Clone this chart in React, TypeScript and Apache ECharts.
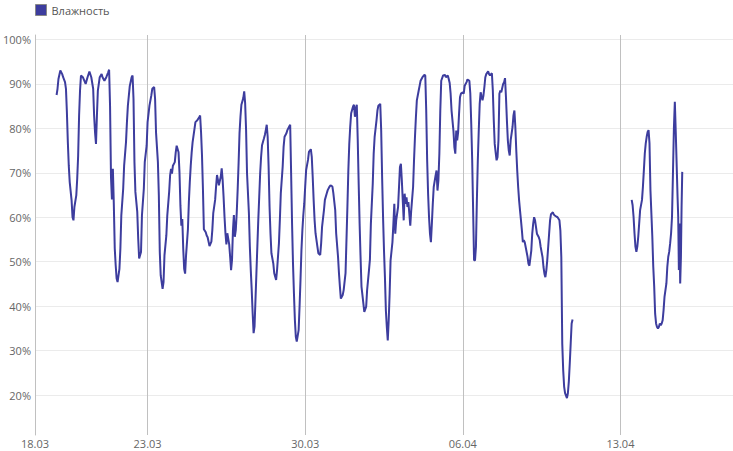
import React, { useEffect, useRef } from "react";
import * as echarts from "echarts";

const SERIES_NAME = "Влажность";
const START_DATE_UTC = Date.UTC(2020, 2, 18);
const X_MIN_HOURS = 0;
const X_MAX_HOURS = 744;
const X_TICK_HOURS = [0, 120, 288, 456, 624];
const Y_MIN = 11;
const Y_MAX = 101;
const Y_TICKS = [20, 30, 40, 50, 60, 70, 80, 90, 100];

// hours since 18.03 00:00
const seg1Hours = [
  23, 24, 25, 27, 29, 30, 32, 33, 34, 35, 36, 37, 39, 40, 41, 42, 44, 45, 46, 47,
  48, 49, 51, 54, 56, 58, 60, 62, 63, 64, 65, 66, 67, 69, 71, 72, 74, 76, 78, 79,
  80, 81, 82, 83, 84, 85, 86, 87, 88, 90, 91, 92, 94, 95, 97, 98, 99, 101, 103, 104,
  105, 106, 107, 109, 110, 111, 113, 114, 116, 117, 119, 120, 122, 124, 125, 127, 128, 129, 131, 132,
  133, 134, 136, 137, 138, 140, 141, 143, 144, 145, 146, 147, 149, 150, 151, 153, 154, 155, 156, 157,
  158, 159, 160, 161, 163, 164, 165, 166, 167, 168, 170, 171, 173, 175, 176, 177, 178, 179, 180, 182,
  183, 184, 186, 188, 189, 190, 192, 193, 194, 195, 196, 198, 199, 200, 201, 202, 203, 204, 205, 207,
  208, 209, 210, 211, 212, 213, 214, 215, 216, 217, 218, 219, 220, 222, 223, 224, 225, 226, 228, 229,
  230, 231, 232, 233, 234, 235, 236, 237, 238, 239, 240, 241, 242, 244, 245, 246, 247, 248, 249, 250,
  251, 252, 254, 255, 257, 258, 260, 261, 262, 264, 265, 266, 268, 269, 271, 272, 273, 274, 275, 276,
  277, 278, 279, 281, 282, 283, 284, 285, 286, 287, 288, 289, 291, 292, 294, 295, 296, 297, 298, 299,
  301, 302, 304, 305, 306, 308, 309, 311, 312, 314, 315, 317, 318, 320, 321, 323, 324, 325, 326, 328,
  329, 331, 332, 333, 334, 335, 336, 337, 339, 340, 341, 342, 343, 344, 345, 346, 347, 348, 350, 351,
  353, 354, 356, 357, 358, 360, 361, 362, 364, 365, 366, 368, 369, 370, 371, 372, 373, 374, 375, 376,
  377, 378, 379, 381, 382, 383, 384, 385, 387, 388, 389, 390, 391, 392, 393, 394, 395, 396, 397, 398,
  399, 400, 401, 403, 404, 405, 406, 407, 409, 410, 411, 413, 415, 416, 417, 418, 419, 420, 421, 422,
  423, 424, 425, 427, 428, 429, 430, 431, 432, 433, 435, 437, 438, 440, 441, 442, 443, 444, 446, 447,
  448, 449, 450, 451, 452, 453, 454, 456, 457, 458, 460, 461, 463, 464, 465, 466, 467, 468, 469, 470,
  471, 472, 473, 474, 475, 477, 478, 479, 480, 481, 483, 484, 485, 487, 488, 489, 490, 491, 492, 493,
  494, 495, 496, 497, 499, 500, 501, 502, 503, 504, 505, 506, 507, 509, 510, 511, 512, 513, 514, 515,
  516, 517, 518, 519, 520, 521, 522, 523, 525, 526, 527, 529, 530, 531, 532, 533, 534, 535, 536, 537,
  538, 539, 541, 542, 543, 544, 545, 546, 547, 548, 549, 550, 552, 553, 554, 556, 557, 559, 560, 561,
  562, 563, 564, 565, 567, 568, 569, 570, 571, 572, 573,
];
const seg1Humidity = [
  87.5, 88.9, 91.1, 93.0, 92.2, 91.5, 90.4, 88.9, 83.6, 76.9, 71.6, 67.9, 63.8, 60.0, 59.3, 62.3, 64.9, 68.7, 73.9, 82.9,
  88.5, 91.9, 91.5, 90.0, 91.5, 92.8, 91.5, 88.9, 82.9, 79.1, 76.5, 82.9, 88.5, 91.5, 92.2, 91.5, 90.7, 91.5, 92.6, 93.2,
  85.0, 69.0, 64.0, 70.9, 63.0, 53.0, 49.2, 46.2, 45.4, 48.4, 52.9, 60.4, 66.4, 71.6, 76.9, 81.4, 85.1, 89.5, 91.5, 91.9,
  86.6, 72.4, 65.7, 61.2, 55.2, 50.7, 52.2, 60.4, 66.4, 72.4, 76.1, 81.4, 85.1, 87.4, 88.9, 89.3, 86.6, 79.1, 72.4, 64.9,
  52.2, 46.9, 43.9, 45.4, 51.4, 55.9, 60.4, 65.7, 69.4, 70.9, 69.8, 71.6, 72.4, 74.6, 76.1, 74.6, 70.1, 62.6, 58.1, 59.6,
  52.9, 48.4, 47.3, 51.4, 57.3, 63.4, 67.9, 71.6, 74.6, 76.9, 79.9, 81.4, 81.8, 82.5, 82.9, 79.1, 73.9, 66.4, 57.3, 56.6,
  55.9, 55.5, 53.5, 54.5, 57.1, 60.9, 63.9, 66.9, 69.5, 68.4, 67.2, 69.1, 71.0, 68.4, 64.6, 60.1, 56.4, 53.9, 56.4, 53.9,
  51.1, 48.1, 50.4, 57.1, 60.5, 55.6, 57.1, 60.9, 66.1, 72.1, 78.9, 82.6, 85.3, 86.8, 88.3, 85.6, 79.6, 69.9, 60.9, 53.4,
  48.1, 43.6, 38.4, 33.9, 35.4, 41.4, 47.4, 53.4, 59.4, 64.6, 69.9, 73.6, 76.2, 77.7, 78.5, 79.6, 80.8, 78.1, 71.4, 62.4,
  56.4, 51.9, 49.6, 47.4, 45.9, 48.1, 54.1, 59.4, 65.4, 71.4, 75.9, 78.1, 78.9, 79.6, 80.4, 80.8, 69.9, 58.6, 49.6, 42.9,
  36.9, 33.1, 32.0, 34.6, 39.9, 45.9, 52.6, 57.1, 60.5, 63.1, 66.9, 70.6, 72.9, 74.7, 75.3, 73.6, 69.1, 63.9, 59.4, 56.4,
  53.4, 51.9, 51.5, 54.1, 57.9, 61.6, 63.9, 65.4, 66.1, 66.9, 67.2, 66.9, 65.4, 61.6, 56.4, 51.1, 47.4, 44.4, 41.7, 42.5,
  43.6, 47.4, 54.9, 62.4, 70.6, 76.6, 80.4, 83.4, 84.9, 85.3, 82.6, 84.5, 85.3, 77.4, 67.6, 58.6, 51.1, 44.4, 40.6, 38.7,
  39.9, 43.6, 48.1, 50.5, 58.5, 67.5, 74.3, 78.0, 81.8, 84.0, 85.1, 85.5, 79.5, 69.0, 60.0, 52.5, 46.5, 39.0, 35.3, 32.3,
  36.8, 42.8, 50.3, 54.4, 58.5, 63.0, 56.3, 59.3, 62.3, 66.8, 71.3, 72.0, 68.3, 63.8, 59.3, 65.3, 63.0, 64.5, 62.3, 63.4,
  60.8, 58.1, 61.5, 66.8, 72.8, 78.0, 82.5, 86.3, 88.5, 89.6, 90.7, 91.5, 92.0, 91.9, 84.0, 72.8, 65.3, 60.0, 56.3, 54.4,
  58.5, 63.0, 66.8, 69.4, 70.5, 66.0, 68.3, 74.3, 84.0, 90.7, 91.9, 92.0, 91.5, 91.9, 91.1, 90.2, 87.8, 84.0, 79.5, 75.8,
  74.3, 79.5, 77.3, 79.1, 83.3, 87.0, 87.8, 88.1, 87.8, 89.6, 90.4, 91.0, 90.7, 87.8, 81.0, 72.8, 61.5, 50.3, 50.3, 53.3,
  63.8, 72.8, 79.5, 85.5, 88.1, 86.3, 87.4, 89.3, 91.5, 92.2, 92.8, 92.2, 91.9, 92.4, 88.5, 81.8, 76.5, 74.6, 72.8, 73.5,
  77.3, 87.8, 88.5, 88.1, 90.0, 90.4, 91.3, 87.0, 81.8, 77.3, 75.0, 73.9, 77.3, 80.3, 82.9, 84.0, 80.3, 75.0, 70.5, 66.8,
  63.8, 61.5, 59.3, 57.0, 54.4, 54.8, 54.4, 53.3, 51.1, 49.5, 49.1, 52.5, 56.3, 58.5, 60.0, 59.3, 57.8, 56.3, 55.9, 55.5,
  54.8, 53.3, 51.0, 48.8, 47.3, 46.5, 48.0, 50.3, 53.3, 56.3, 59.3, 60.7, 61.1, 60.6, 60.4, 60.1, 60.0, 59.3, 57.0, 51.0,
  31.6, 25.6, 21.9, 20.4, 19.3, 20.4, 23.0, 27.1, 31.6, 36.1, 37.0,
];

const gapHour = 600;

const seg2Hours = [
  636, 637, 638, 639, 640, 641, 642, 643, 644, 645, 647, 648, 649, 650, 651, 652, 653, 654, 655, 656,
  658, 659, 660, 661, 662, 663, 664, 665, 666, 667, 668, 669, 670, 671, 673, 674, 675, 676, 677, 678,
  679, 680, 681, 682, 683, 684.2, 684.9, 685.6, 686.3, 687, 687.7, 688.5, 689.2, 689.9,
];
const seg2Humidity = [
  63.9, 62.7, 60.1, 56.4, 53.4, 52.2, 53.4, 55.6, 58.6, 61.6, 63.9, 66.9, 70.6, 74.4, 76.6, 78.1, 79.2, 79.6, 76.6, 66.1,
  55.6, 48.9, 44.4, 38.3, 36.1, 35.3, 35.0, 35.3, 36.1, 35.7, 36.1, 36.8, 39.1, 42.1, 45.1, 48.9, 51.1, 52.2, 54.1, 56.4,
  60.1, 69.9, 80.0, 86.0, 79.0, 69.9, 64.6, 60.1, 48.1, 58.6, 45.1, 51.1, 62.4, 70.2,
];

const LINE_COLOR = "#3d3d9e";
const FONT = "'Open Sans', 'Noto Sans', sans-serif";

function formatDay(h: number): string {
  const d = new Date(START_DATE_UTC + h * 3600000);
  const dd = String(d.getUTCDate()).padStart(2, "0");
  const mm = String(d.getUTCMonth() + 1).padStart(2, "0");
  return `${dd}.${mm}`;
}

export default function App() {
  const ref = useRef<HTMLDivElement>(null);
  useEffect(() => {
    if (!ref.current) return;
    const chart = echarts.init(ref.current, null, { renderer: "svg" });
    const data: any[] = [];
    seg1Hours.forEach((h, i) => data.push([h, seg1Humidity[i]]));
    data.push([gapHour, null]);
    seg2Hours.forEach((h, i) => data.push([h, seg2Humidity[i]]));

    chart.setOption({
      animation: false,
      textStyle: { fontFamily: FONT },
      legend: {
        show: true,
        left: 35,
        top: 4,
        padding: 0,
        icon: "rect",
        itemWidth: 11,
        itemHeight: 11,
        itemGap: 10,
        textStyle: { color: "#555", fontSize: 11, fontFamily: FONT },
        itemStyle: { color: LINE_COLOR, borderColor: "#888", borderWidth: 1 },
        data: [SERIES_NAME],
      },
      grid: { left: 35, right: 0, top: 35, bottom: 16, containLabel: false },
      xAxis: {
        type: "value",
        min: X_MIN_HOURS,
        max: X_MAX_HOURS,
        axisLine: { show: false },
        axisTick: { show: false, customValues: X_TICK_HOURS },
        axisLabel: {
          customValues: X_TICK_HOURS,
          formatter: (v: number) => formatDay(v),
          color: "#666",
          fontSize: 11,
          fontFamily: FONT,
          margin: 3,
        },
        splitLine: { show: true, lineStyle: { color: "#c0c0c0", width: 1 } },
      },
      yAxis: {
        type: "value",
        min: Y_MIN,
        max: Y_MAX,
        axisLine: { show: true, lineStyle: { color: "#c0c0c0", width: 1 } },
        axisTick: { show: false, customValues: Y_TICKS },
        axisLabel: {
          customValues: Y_TICKS,
          formatter: (v: number) => `${v}%`,
          color: "#666",
          fontSize: 11,
          fontFamily: FONT,
          margin: 4,
        },
        splitLine: { show: true, lineStyle: { color: "#ebebeb", width: 1 } },
      },
      series: [
        {
          name: SERIES_NAME,
          type: "line",
          data,
          showSymbol: false,
          symbol: "none",
          connectNulls: false,
          lineStyle: { color: LINE_COLOR, width: 2 },
          itemStyle: { color: LINE_COLOR },
        },
      ],
    });
    return () => chart.dispose();
  }, []);
  return (
    <div
      ref={ref}
      style={{ position: "absolute", left: 0, top: 0, width: 733, height: 451 }}
    />
  );
}
